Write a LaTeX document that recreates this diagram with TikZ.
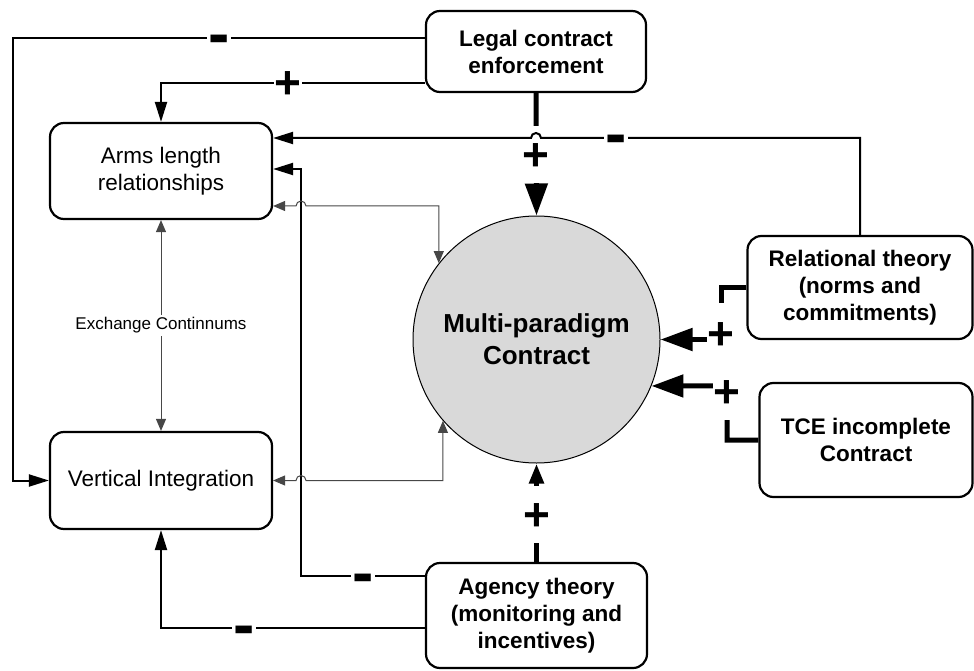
\documentclass[tikz,border=0pt]{standalone}
\usepackage{fontspec}
\setmainfont{Liberation Sans}
\usetikzlibrary{arrows.meta,calc}
\begin{document}
\begin{tikzpicture}[x=1pt,y=-1pt,
  box/.style={draw, line width=2.2pt, rounded corners=14pt, align=center,
    font=\fontsize{22.5}{27}\selectfont, inner sep=0pt},
  boldbox/.style={box, font=\fontsize{22.5}{27}\selectfont\bfseries},
  conn/.style={line width=2pt},
  thickconn/.style={line width=5pt},
  thinconn/.style={line width=1pt, draw=black!72},
  arr/.style={-{Triangle[length=20pt,width=12pt]}},
  bigarr/.style={-{Triangle[length=32pt,width=22pt]}},
  midarr/.style={-{Triangle[length=20pt,width=14pt]}},
  biarr/.style={{Triangle[length=12pt,width=10pt]}-{Triangle[length=12pt,width=10pt]}},
  plus/.style={fill=white, inner xsep=1pt, inner ysep=0pt, font=\fontsize{46}{46}\selectfont\bfseries},
  plusgap/.style={plus, minimum width=26pt},
  minus/.style={fill=white, inner xsep=1.5pt, inner ysep=0pt,
    font=\fontsize{64}{64}\selectfont\bfseries},
  exlabel/.style={fill=white, inner sep=3pt, font=\fontsize{17}{20}\selectfont}
]
\useasboundingbox (0,0) rectangle (974,671);
\newcommand{\plussign}{\raisebox{-16pt}[12pt][12pt]{+}}
\newcommand{\minussign}{\raisebox{-18pt}[4pt][4pt]{-}}

% nodes
\node[box, minimum width=222pt, minimum height=96pt] (arms) at (161,171) {Arms length\\relationships};
\node[box, minimum width=222pt, minimum height=97pt] (vi) at (161,480.5) {Vertical Integration};
\node[boldbox, minimum width=220pt, minimum height=81pt] (legal) at (536,51.5) {Legal contract\\enforcement};
\node[boldbox, minimum width=225pt, minimum height=103pt] (rel) at (860,287.5) {Relational theory\\(norms and\\commitments)};
\node[boldbox, minimum width=213pt, minimum height=114pt] (tce) at (866,440) {TCE incomplete\\Contract};
\node[boldbox, minimum width=221pt, minimum height=105pt] (agency) at (536.5,615.5) {Agency theory\\(monitoring and\\incentives)};
\node[circle, draw, line width=1pt, fill=black!15, minimum size=247pt, inner sep=0pt, align=center,
  font=\fontsize{26}{32}\selectfont\bfseries] (circ) at (536.5,339.5) {Multi-paradigm\\Contract};

% Legal -> Vertical Integration (-)
\draw[conn, arr] ($(legal.west)+(0,-13.5)$) -- (13,38) -- (13,480.5) -- (vi.west)
  node[minus] at (219,38) {\minussign};
% Legal -> Arms length (+)
\draw[conn, arr] ($(legal.west)+(0,31.5)$) -| (arms.north)
  node[plus] at (288,83) {\plussign};
% Legal -> circle (+)
\draw[thickconn, bigarr] (legal.south) -- (circ.north)
  node[plusgap, minimum height=57pt] at (536,155) {\plussign};
% Agency -> circle (+)
\draw[thickconn, midarr] (agency.north) -- (circ.south)
  node[plusgap, minimum height=57pt] at (536.5,514.5) {\plussign};
% Relational -> circle (+)
\draw[thickconn, bigarr] (rel.west) -- (721,287.5) -- (721,339.5) -- (circ.east)
  node[plusgap, minimum height=60pt] at (721,333) {\plussign};
% TCE -> circle (+)
\draw[thickconn, bigarr] (tce.west) -- (727,440) -- (727,386) -- (circ.-22)
  node[plusgap, minimum height=58pt] at (727,391) {\plussign};
% Relational -> Arms length (-), hop over the vertical line
\draw[conn, arr] (rel.north) |- (541,138) arc[start angle=0, end angle=180, radius=5pt]
  -- ($(arms.east)+(0,-33)$)
  node[minus] at (616,138) {\minussign};
% Agency -> Arms length (-)
\draw[conn, arr] ($(agency.west)+(0,-39.5)$) -- (301,576) -- (301,169) -- ($(arms.east)+(0,-2)$)
  node[minus] at (363,576) {\minussign};
% Agency -> Vertical Integration (-)
\draw[conn, arr] ($(agency.west)+(0,12.5)$) -| (vi.south)
  node[minus] at (244,628) {\minussign};
% circle <-> Arms length
\draw[thinconn, biarr] ($(arms.east)+(0,35)$) -- (296,206) arc[start angle=180, end angle=0, radius=5pt]
  -| (circ.142);
% circle <-> Vertical Integration
\draw[thinconn, biarr] (vi.east) -- (296,480.5) arc[start angle=180, end angle=0, radius=5pt]
  -| (circ.221);
% Arms length <-> Vertical Integration
\draw[thinconn, biarr] (arms.south) -- (vi.north)
  node[exlabel, midway] {Exchange Continnums};
\end{tikzpicture}
\end{document}
